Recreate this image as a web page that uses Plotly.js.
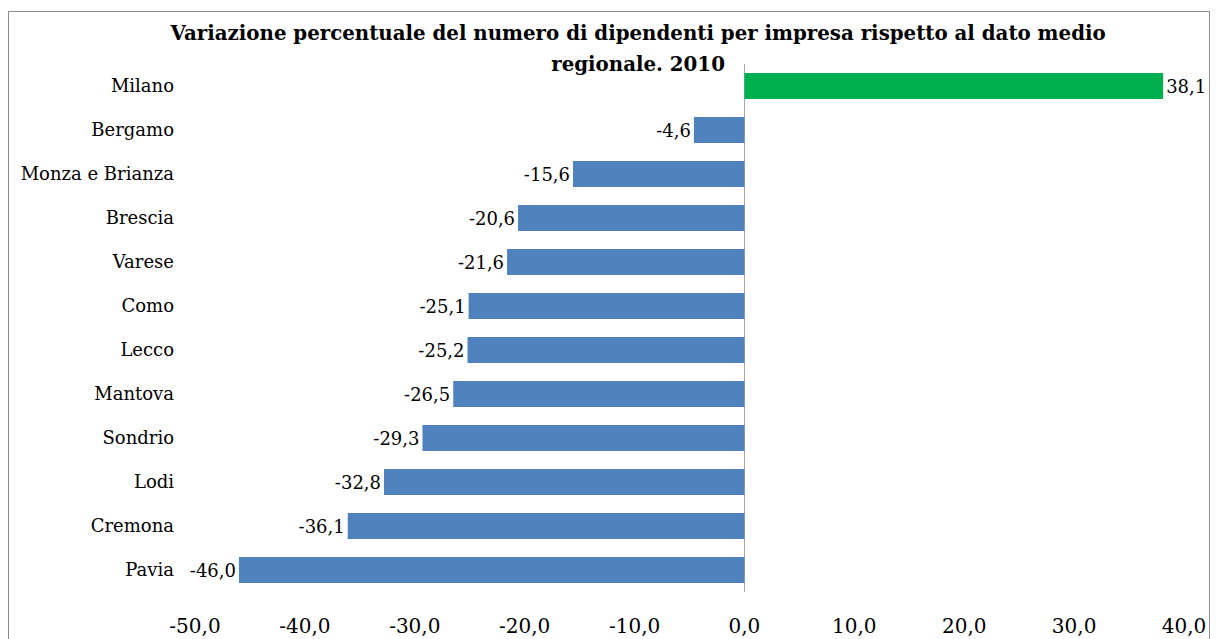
<!DOCTYPE html>
<html>
<head>
<meta charset="utf-8">
<script src="https://cdn.plot.ly/plotly-3.0.1.min.js"></script>
<style>
  html, body { margin: 0; padding: 0; background: #ffffff; }
  #frame { position: absolute; left: 8px; top: 11px; width: 1202px; height: 700px; border: 1.5px solid #8c8c8c; box-sizing: border-box; }
  #chart { position: absolute; left: 0; top: 0; width: 1216px; height: 639px; }
</style>
</head>
<body>
<div id="frame"></div>
<div id="chart"></div>
<script>
const provinces = ["Milano", "Bergamo", "Monza e Brianza", "Brescia", "Varese", "Como", "Lecco", "Mantova", "Sondrio", "Lodi", "Cremona", "Pavia"];
const variation = [38.1, -4.6, -15.6, -20.6, -21.6, -25.1, -25.2, -26.5, -29.3, -32.8, -36.1, -46.0];
const xTicks = [-50, -40, -30, -20, -10, 0, 10, 20, 30, 40];
const titleLines = ["Variazione percentuale del numero di dipendenti per impresa rispetto al dato medio", "regionale. 2010"];

const FONT = "DejaVu Serif";
const fmt = v => v.toFixed(1).replace(".", ",");
const xTickText = xTicks.map(fmt);
const barLabels = variation.map(fmt);
const barColors = variation.map(v => v >= 0 ? "#00B050" : "#4F81BD");
const titleText = titleLines.map(s => '<span style="font-size:19.8px">' + s + '</span>').join("<br>");

const trace = {
  type: "bar",
  orientation: "h",
  y: provinces,
  x: variation,
  marker: { color: barColors, line: { width: 0 } },
  text: barLabels,
  texttemplate: "%{text}",
  textposition: "outside",
  constraintext: "none",
  cliponaxis: false,
  textfont: { family: FONT, size: 18, color: "#000000" },
  hoverinfo: "none"
};

const layout = {
  width: 1216,
  height: 639,
  paper_bgcolor: "rgba(0,0,0,0)",
  plot_bgcolor: "rgba(0,0,0,0)",
  margin: { l: 195, r: 32, t: 64, b: 47, pad: 0 },
  bargap: 0.41,
  showlegend: false,
  font: { family: FONT, color: "#000000" },
  title: {
    text: titleText,
    font: { family: FONT, size: 24, color: "#000000", weight: "bold" },
    x: 0.448,
    xanchor: "center",
    xref: "paper",
    yref: "container",
    y: 0.937,
    yanchor: "top"
  },
  xaxis: {
    range: [-50, 40],
    tickvals: xTicks,
    ticktext: xTickText,
    showgrid: false,
    showline: false,
    zeroline: true,
    zerolinecolor: "#a6a6a6",
    zerolinewidth: 1.5,
    ticks: "",
    ticklabelstandoff: 20,
    tickfont: { family: FONT, size: 20, color: "#000000" },
    fixedrange: true
  },
  yaxis: {
    type: "category",
    autorange: "reversed",
    showgrid: false,
    showline: false,
    zeroline: false,
    ticks: "",
    ticklabelstandoff: 20,
    tickfont: { family: FONT, size: 18, color: "#000000" },
    fixedrange: true
  }
};

Plotly.newPlot("chart", [trace], layout, { displayModeBar: false, staticPlot: true });
</script>
</body>
</html>
